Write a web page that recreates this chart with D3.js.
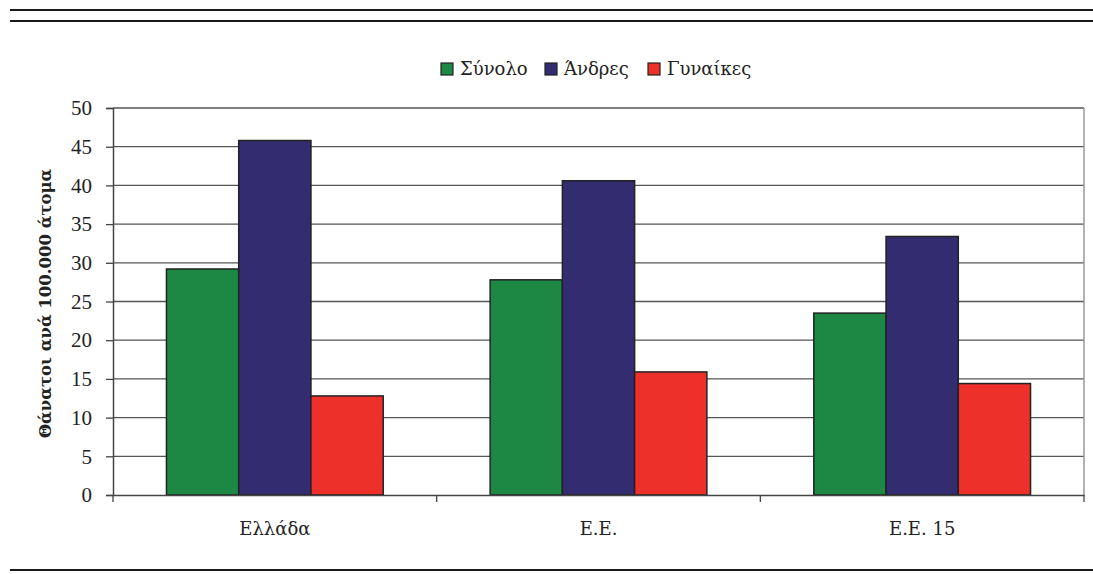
<!DOCTYPE html>
<html>
<head>
<meta charset="utf-8">
<script src="https://cdn.jsdelivr.net/npm/d3@7"></script>
<style>
  html, body { margin: 0; padding: 0; background: #fff; }
  svg { display: block; }
</style>
</head>
<body>
<svg id="chart" width="1093" height="574"></svg>
<script>
const categories = ["Ελλάδα", "Ε.Ε.", "Ε.Ε. 15"];
const seriesNames = ["Σύνολο", "Άνδρες", "Γυναίκες"];
const seriesColors = ["#1c8843", "#332c70", "#ee302b"];
const totalValues = [29.2, 27.8, 23.5];
const menValues = [45.8, 40.6, 33.4];
const womenValues = [12.8, 15.9, 14.4];
const yTicks = [0, 5, 10, 15, 20, 25, 30, 35, 40, 45, 50];
const yTitle = "Θάνατοι ανά 100.000 άτομα";

const seriesValues = [totalValues, menValues, womenValues];
const numFont = "'Liberation Serif', 'DejaVu Serif', serif";
const textFont = "'DejaVu Serif', 'Liberation Serif', serif";

const svg = d3.select("#chart");
const plotLeft = 113, plotRight = 1084, plotTop = 108, plotBottom = 495;

// decorative rules
svg.append("line").attr("x1", 10).attr("x2", 1093).attr("y1", 10).attr("y2", 10)
  .attr("stroke", "#1a1a1a").attr("stroke-width", 2);
svg.append("line").attr("x1", 10).attr("x2", 1093).attr("y1", 21).attr("y2", 21)
  .attr("stroke", "#1a1a1a").attr("stroke-width", 2);
svg.append("line").attr("x1", 10).attr("x2", 1093).attr("y1", 570).attr("y2", 570)
  .attr("stroke", "#1a1a1a").attr("stroke-width", 2);

const x0 = d3.scaleBand().domain(categories).range([plotLeft, plotRight]).padding(0);
const x1 = d3.scaleBand().domain(seriesNames).range([0, x0.bandwidth()])
  .paddingInner(0).paddingOuter(0.74);
const y = d3.scaleLinear().domain([0, 50]).range([plotBottom, plotTop]);

// gridlines
svg.append("g").selectAll("line").data(yTicks.filter(t => t > 0)).join("line")
  .attr("x1", plotLeft).attr("x2", plotRight)
  .attr("y1", d => y(d)).attr("y2", d => y(d))
  .attr("stroke", "#555").attr("stroke-width", 1.3);
// right border
svg.append("line").attr("x1", plotRight).attr("x2", plotRight).attr("y1", plotTop).attr("y2", plotBottom)
  .attr("stroke", "#999").attr("stroke-width", 1.5);

// bars
const groups = svg.append("g").selectAll("g").data(categories).join("g")
  .attr("transform", d => `translate(${x0(d)},0)`);
groups.selectAll("rect")
  .data((c, i) => seriesNames.map((s, j) => ({ s, v: seriesValues[j][i], color: seriesColors[j] })))
  .join("rect")
  .attr("x", d => x1(d.s))
  .attr("width", x1.bandwidth())
  .attr("y", d => y(d.v))
  .attr("height", d => y(0) - y(d.v))
  .attr("fill", d => d.color)
  .attr("stroke", "#222")
  .attr("stroke-width", 1.5);

// y axis
const yAxis = svg.append("g").attr("transform", `translate(${plotLeft},0)`)
  .call(d3.axisLeft(y).tickValues(yTicks).tickSize(7).tickPadding(14));
yAxis.select(".domain").attr("stroke", "#444").attr("stroke-width", 1.5);
yAxis.selectAll(".tick line").attr("stroke", "#444").attr("stroke-width", 1.3);
yAxis.selectAll(".tick text").attr("font-family", numFont).attr("font-size", 21).attr("fill", "#222");

// x axis
const xAxis = svg.append("g").attr("transform", `translate(0,${plotBottom})`)
  .call(d3.axisBottom(x0).tickSize(0).tickPadding(27));
xAxis.select(".domain").attr("stroke", "#444").attr("stroke-width", 1.5);
xAxis.selectAll(".tick text").attr("font-family", textFont).attr("font-size", 18).attr("fill", "#222");
// category boundary ticks
const bounds = categories.map(c => x0(c)).concat([plotRight]);
svg.append("g").selectAll("line").data(bounds).join("line")
  .attr("x1", d => d).attr("x2", d => d)
  .attr("y1", plotBottom).attr("y2", plotBottom + 7)
  .attr("stroke", "#444").attr("stroke-width", 1.3);

// y title
svg.append("text")
  .attr("transform", `translate(51,${(plotTop + plotBottom) / 2 + 2}) rotate(-90)`)
  .attr("text-anchor", "middle")
  .attr("font-family", textFont).attr("font-size", 16.5).attr("font-weight", "bold")
  .attr("fill", "#222")
  .text(yTitle);

// legend
const legendX = [441, 545, 648];
const legend = svg.append("g").selectAll("g").data(seriesNames).join("g")
  .attr("transform", (d, i) => `translate(${legendX[i]},63)`);
legend.append("rect").attr("width", 12).attr("height", 12)
  .attr("fill", (d, i) => seriesColors[i]).attr("stroke", "#222").attr("stroke-width", 1.2);
legend.append("text").attr("x", 19).attr("y", 12)
  .attr("font-family", textFont).attr("font-size", 18).attr("fill", "#222")
  .text(d => d);
</script>
</body>
</html>
